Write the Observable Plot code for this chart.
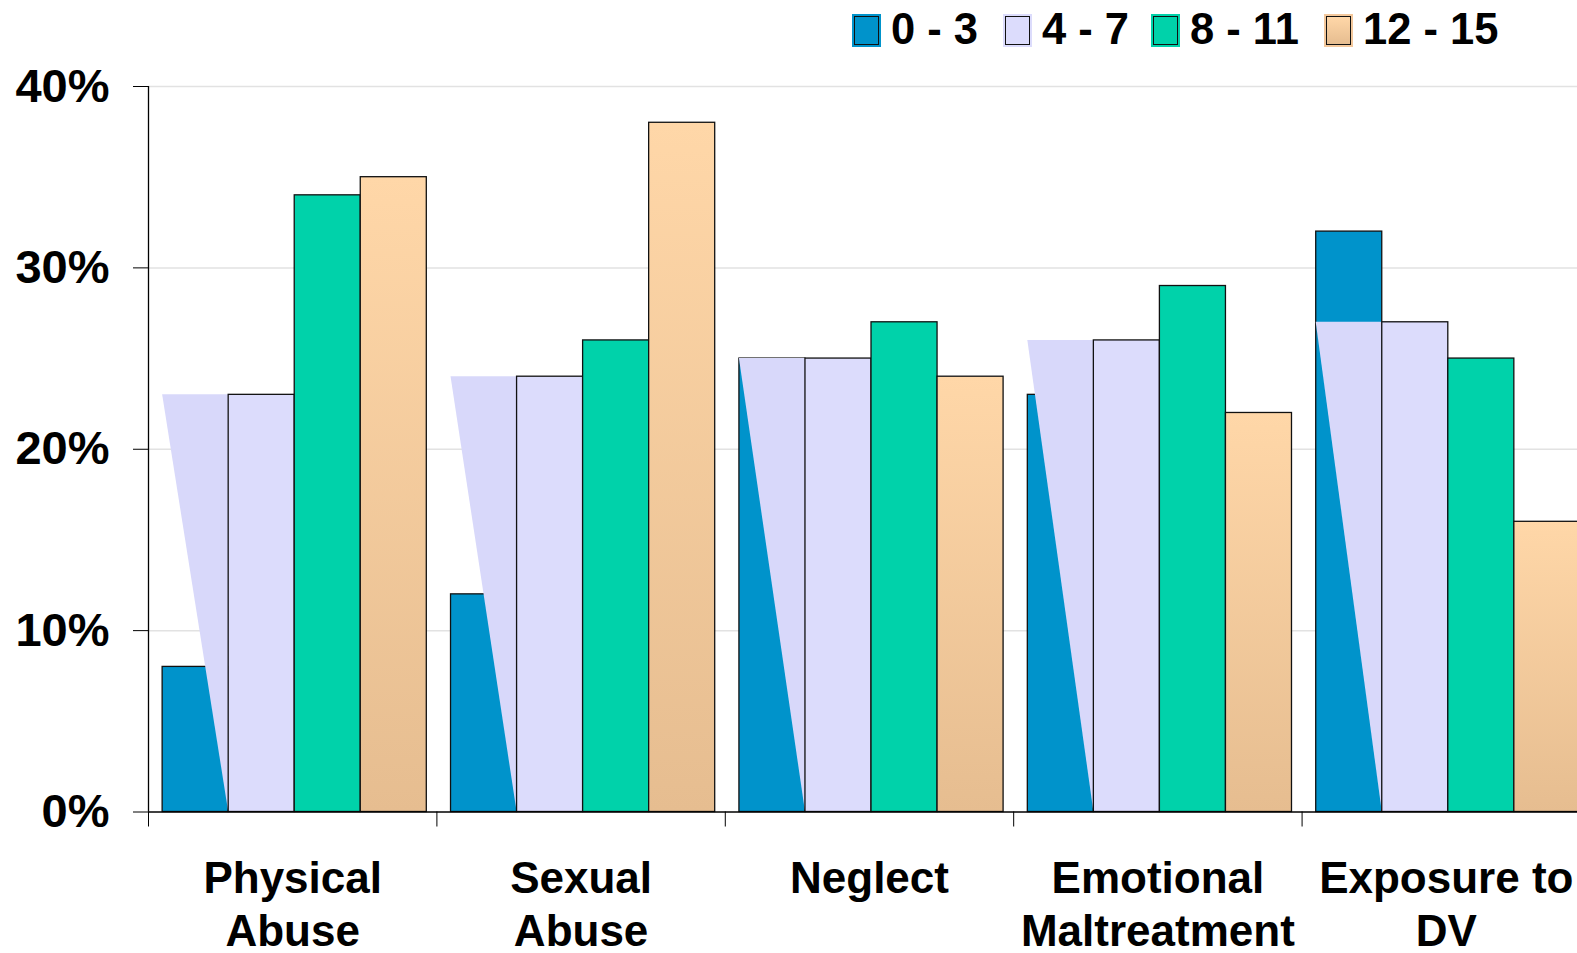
<!DOCTYPE html>
<html><head><meta charset="utf-8">
<script src="https://cdn.jsdelivr.net/npm/d3@7"></script>
<script src="https://cdn.jsdelivr.net/npm/@observablehq/plot@0.6"></script>
<style>
body{margin:0;background:#fff;overflow:hidden;font-family:"Liberation Sans",Arial,sans-serif;}
#legend{position:relative;height:60px;width:1577px;}
.item{position:absolute;top:0;height:60px;display:flex;align-items:center;font-weight:bold;font-size:43.5px;color:#000;line-height:1;}
.sw{width:25px;height:29px;box-sizing:border-box;margin-right:12px;border:1.5px solid #111;}
</style></head><body>
<div id="legend"></div><div id="chart"></div>
<script>
// ---- data ----
const categories = ["Physical\nAbuse", "Sexual\nAbuse", "Neglect", "Emotional\nMaltreatment", "Exposure to\nDV"];
const ageGroups = ["0 - 3", "4 - 7", "8 - 11", "12 - 15"];
const age0to3   = [8, 12, 25, 23, 32];
const age4to7   = [23, 24, 25, 26, 27];
const age8to11  = [34, 26, 27, 29, 25];
const age12to15 = [35, 38, 24, 22, 16];
const yTicks = [0, 10, 20, 30, 40];
const seriesValues = [age0to3, age4to7, age8to11, age12to15];

// ---- styling / layout ----
const fills = ["#0093cb", "#dcdcfc", "#00d2aa", "url(#peachGrad)"];
const legendBg = ["#0093cb", "#dcdcfc", "#00d2aa", "linear-gradient(#ffd7a8,#e6bd90)"];
const legendOutline = ["#0093cb", "#dcdcfc", "#00d2aa", "#f3c89c"];
const legendX = [854, 1005, 1153, 1326];
const PAD = 0.049, BW = 0.229;

const bars = [];
seriesValues.forEach((vals, j) => vals.forEach((v, i) => bars.push({cat: i, s: j, v})));
const tri = [];
age4to7.forEach((v, i) => {
  tri.push({g: i, x: i + PAD, y1: v, y2: v});
  tri.push({g: i, x: i + PAD + BW, y1: 0, y2: v});
});

// legend
const lg = document.getElementById("legend");
ageGroups.forEach((a, j) => {
  const it = document.createElement("div");
  it.className = "item";
  it.style.left = legendX[j] + "px";
  const sw = document.createElement("div");
  sw.className = "sw";
  sw.style.background = legendBg[j];
  sw.style.outline = "2px solid " + legendOutline[j];
  it.appendChild(sw);
  const t = document.createElement("span");
  t.textContent = a;
  it.appendChild(t);
  lg.appendChild(it);
});

const defs = () => {
  const d = d3.create("svg:defs");
  const g = d.append("linearGradient").attr("id", "peachGrad").attr("x1", 0).attr("y1", 0).attr("x2", 0).attr("y2", 1);
  g.append("stop").attr("offset", "0%").attr("stop-color", "#ffd7a8");
  g.append("stop").attr("offset", "100%").attr("stop-color", "#e6bd90");
  return d.node();
};

const barMark = (j) => Plot.rectY(bars.filter(d => d.s === j), {
  x1: d => d.cat + PAD + d.s * BW,
  x2: d => d.cat + PAD + (d.s + 1) * BW,
  y1: 0, y2: "v",
  fill: fills[j], stroke: "#111", strokeWidth: 1.3
});

const chart = Plot.plot({
  width: 1577, height: 893,
  marginLeft: 148, marginRight: 0, marginTop: 26, marginBottom: 141.5,
  style: {fontFamily: "Liberation Sans, Arial, sans-serif", color: "#000", background: "#fff", overflow: "visible"},
  x: {domain: [0, 4.955]},
  y: {domain: [0, 40]},
  marks: [
    defs,
    Plot.gridY(yTicks.slice(1), {stroke: "#e2e2e2", strokeOpacity: 1, strokeWidth: 1.5}),
    barMark(0),
    Plot.areaY(tri, {x: "x", y1: "y1", y2: "y2", z: "g", fill: "#d8d8fa", fillOpacity: 1}),
    barMark(1),
    barMark(2),
    barMark(3),
    Plot.ruleX([0], {y1: 0, y2: 40, stroke: "#000", strokeWidth: 1.3}),
    Plot.ruleY([0], {stroke: "#000", strokeWidth: 1.3}),
    Plot.axisY({ticks: yTicks, tickFormat: d => d + "%", tickSize: 15, tickPadding: 24, fontSize: 47, fontWeight: "bold", label: null, stroke: "#000"}),
    Plot.axisX({ticks: [0, 1, 2, 3, 4], tickFormat: () => "", tickSize: 15, label: null, stroke: "#000"}),
    Plot.text(categories, {x: (d, i) => i + 0.5, text: d => d, frameAnchor: "bottom", dy: 43, lineAnchor: "top", lineHeight: 1.21, fontSize: 44, fontWeight: "bold", fill: "#000"})
  ]
});
document.getElementById("chart").appendChild(chart);
</script>
</body></html>
